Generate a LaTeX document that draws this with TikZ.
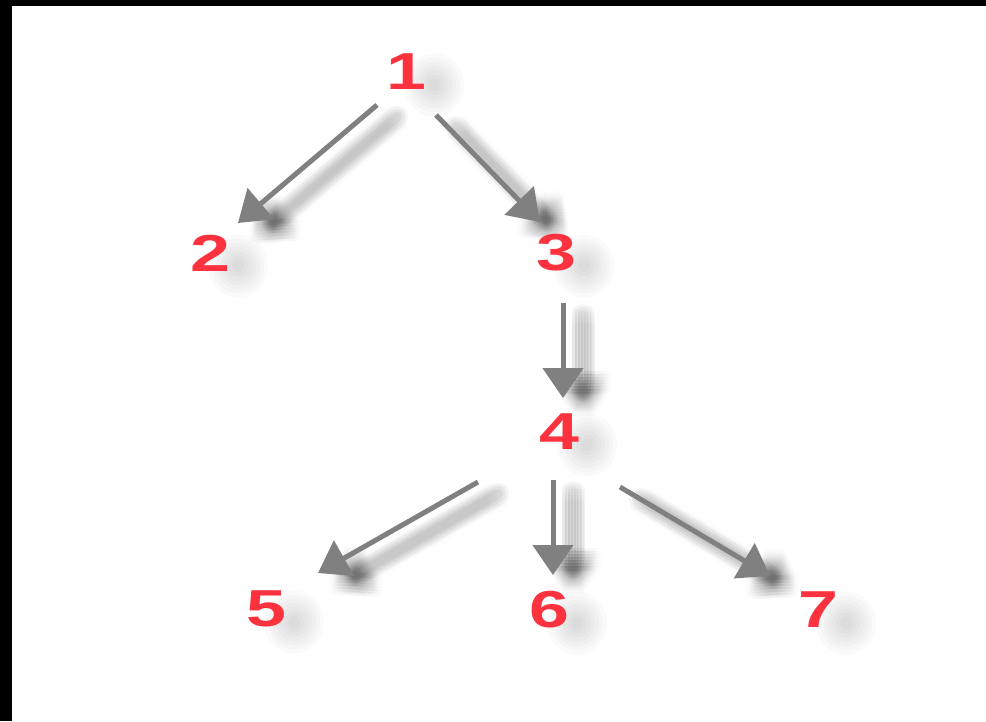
\documentclass[tikz,border=0pt]{standalone}
\usepackage{fontspec}
\setmainfont{Liberation Sans}
\usetikzlibrary{arrows.meta,calc}
\pgfdeclarelayer{bg}
\pgfdeclarelayer{shadowlayer}
\pgfsetlayers{bg,shadowlayer,main}
\definecolor{numred}{RGB}{252,50,62}
\definecolor{arrowgray}{RGB}{128,128,128}
\tikzset{
  num/.style={text=numred, font=\fontsize{52}{52}\selectfont\bfseries, inner sep=0pt},
  arr/.style={draw=arrowgray, line width=5pt, -{Triangle[width=40pt,length=30pt]}},
  arrshadow/.style={draw=black, line width=5pt, opacity=0.008, -{Triangle[width=40pt,length=30pt]}},
  bandshadow/.style={draw=black, opacity=0.035, line cap=round},
  blob/.style={fill=black, opacity=0.02},
}
\newcommand\digitbox[1]{\scalebox{1.38}[1]{#1}}
\newcommand\numshadow[1]{%
  \foreach \r in {30,26,22,18,14,10,6}
    \fill[blob] ($(n#1)+(28,13)$) ellipse [x radius=\r pt, y radius=1.05*\r pt];}
\newcommand\arrowshadow[2]{%
  \foreach \w in {22,16,10}
    \draw[bandshadow, line width=\w pt, shorten >=20pt] ($(#1)+(20,12)$) -- ($(#2)+(20,12)$);
  \foreach \ox in {11,14,17,20,23,26,29}
    \foreach \oy in {3,6,9,12,15,18,21}
      \draw[arrshadow] ($(#1)+(\ox,\oy)$) -- ($(#2)+(\ox,\oy)$);}
\begin{document}
\begin{tikzpicture}[x=1pt,y=-1pt]
\begin{pgfonlayer}{bg}
\fill[black] (0,0) rectangle (986,721);
\fill[white] (12,6) rectangle (986,721);
\end{pgfonlayer}
\useasboundingbox (0,0) rectangle (986,721);

\node[num] (n1) at (406,72) {\digitbox{1}};
\node[num] (n2) at (210,253) {\digitbox{2}};
\node[num] (n3) at (556,253) {\digitbox{3}};
\node[num] (n4) at (559,432) {\digitbox{4}};
\node[num] (n5) at (266,609) {\digitbox{5}};
\node[num] (n6) at (549,610) {\digitbox{6}};
\node[num] (n7) at (818,610) {\digitbox{7}};

\coordinate (a12s) at ($(n1)+(-29,33)$);
\coordinate (a12e) at ($(n2)+(28,-30)$);
\coordinate (a13s) at ($(n1)+(30,43)$);
\coordinate (a13e) at ($(n3)+(-16,-31)$);
\coordinate (a34s) at ($(n3)+(7,50)$);
\coordinate (a34e) at ($(n4)+(4,-34)$);
\coordinate (a45s) at ($(n4)+(-81,50)$);
\coordinate (a45e) at ($(n5)+(52,-36)$);
\coordinate (a46s) at ($(n4)+(-6,48)$);
\coordinate (a46e) at ($(n6)+(4,-35)$);
\coordinate (a47s) at ($(n4)+(61,55)$);
\coordinate (a47e) at ($(n7)+(-48,-34)$);

\begin{pgfonlayer}{shadowlayer}
\numshadow{1}\numshadow{2}\numshadow{3}\numshadow{4}
\numshadow{5}\numshadow{6}\numshadow{7}
\arrowshadow{a12s}{a12e}
\arrowshadow{a13s}{a13e}
\arrowshadow{a34s}{a34e}
\arrowshadow{a45s}{a45e}
\arrowshadow{a46s}{a46e}
\arrowshadow{a47s}{a47e}
\end{pgfonlayer}

\draw[arr] (a12s) -- (a12e);
\draw[arr] (a13s) -- (a13e);
\draw[arr] (a34s) -- (a34e);
\draw[arr] (a45s) -- (a45e);
\draw[arr] (a46s) -- (a46e);
\draw[arr] (a47s) -- (a47e);
\end{tikzpicture}
\end{document}
